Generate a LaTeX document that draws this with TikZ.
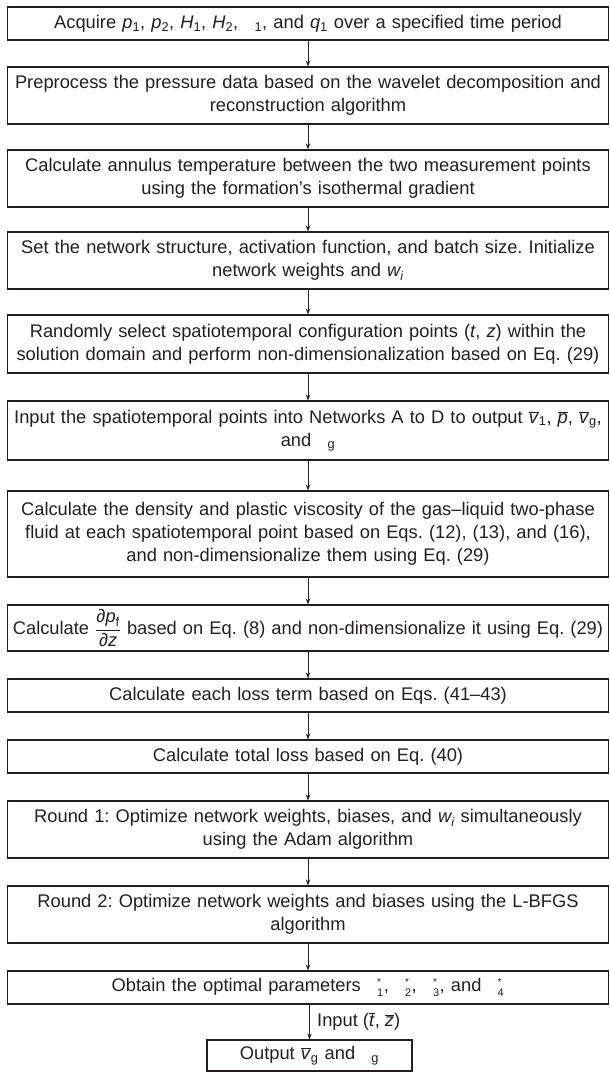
\documentclass[tikz,border=0pt]{standalone}
\usepackage{fontspec}
\setmainfont{Liberation Sans}
\usetikzlibrary{arrows.meta}
\definecolor{ink}{HTML}{231F20}
\newcommand\iv[1]{\textit{#1}}
\newcommand\ovl[1]{$\overline{\mbox{\textit{#1}}}$}
\newcommand\gp{\hphantom{\textit{n}}}
\newcommand\sbx[1]{\textsubscript{#1}}
\newcommand\starsub[1]{\gp$^{\mbox{\fontsize{10}{10}\selectfont *}}_{\mbox{\fontsize{11}{11}\selectfont #1}}$}
\frenchspacing
\begin{document}
\begin{tikzpicture}[x=1pt,y=-1pt,
  box/.style={draw=ink, line width=1.1pt, text=ink, minimum width=601.5pt, text width=600pt,
    align=center, inner xsep=0pt, inner ysep=0pt, font=\fontsize{18.3}{23}\selectfont},
  lbl/.style={text=ink, inner sep=0pt, font=\fontsize{18.3}{23}\selectfont},
  arr/.style={draw=ink, line width=0.9pt, -{Stealth[length=6pt,width=4.5pt]}}]
\useasboundingbox (0,0) rectangle (610,1072);
\node[box, minimum height=33pt] (b1) at (308,23.5) {Acquire \iv{p}\sbx{1}, \iv{p}\sbx{2}, \iv{H}\sbx{1}, \iv{H}\sbx{2}, \gp\sbx{1}, and \iv{q}\sbx{1} over a specified time period};
\node[box, minimum height=57pt] (b2) at (308,95.5) {Preprocess the pressure data based on the wavelet decomposition and\\reconstruction algorithm};
\node[box, minimum height=57pt] (b3) at (308,178.5) {Calculate annulus temperature between the two measurement points\\using the formation’s isothermal gradient};
\node[box, minimum height=57pt] (b4) at (308,260.5) {Set the network structure, activation function, and batch size. Initialize\\network weights and \iv{w\sbx{i}}};
\node[box, minimum height=58pt] (b5) at (308,344) {Randomly select spatiotemporal configuration points (\iv{t}, \iv{z}) within the\\solution domain and perform non-dimensionalization based on Eq. (29)};
\node[box, minimum height=59pt] (b6) at (308,430.5) {Input the spatiotemporal points into Networks A to D to output \ovl{v}\sbx{1}, \ovl{p}, \ovl{v}\sbx{g},\\and \gp\sbx{g}};
\node[box, minimum height=86pt] (b7) at (308,534) {Calculate the density and plastic viscosity of the gas–liquid two-phase\\fluid at each spatiotemporal point based on Eqs. (12), (13), and (16),\\and non-dimensionalize them using Eq. (29)};
\node[box, minimum height=46pt] (b8) at (308,628) {Calculate $\displaystyle\frac{\mbox{\iv{∂p}\sbx{f}}}{\mbox{\iv{∂z}}}$ based on Eq. (8) and non-dimensionalize it using Eq. (29)};
\node[box, minimum height=33pt] (b9) at (308,695.5) {Calculate each loss term based on Eqs. (41–43)};
\node[box, minimum height=33pt] (b10) at (308,756.5) {Calculate total loss based on Eq. (40)};
\node[box, minimum height=57pt] (b11) at (308,829.5) {Round 1: Optimize network weights, biases, and \iv{w\sbx{i}} simultaneously\\using the Adam algorithm};
\node[box, minimum height=57pt] (b12) at (308,914.5) {Round 2: Optimize network weights and biases using the L-BFGS\\algorithm};
\node[box, minimum height=33pt] (b13) at (308,987.5) {Obtain the optimal parameters \starsub{1}, \starsub{2}, \starsub{3}, and \starsub{4}};
\node[box, minimum height=31pt, minimum width=205pt, text width=200pt] (b14) at (309.5,1055.5) {Output \ovl{v}\sbx{g} and \gp\sbx{g}};
\node[lbl, anchor=west] (lab) at (317,1021) {Input (\ovl{t}, \ovl{z})};
\draw[arr] (b1) -- (b2);
\draw[arr] (b2) -- (b3);
\draw[arr] (b3) -- (b4);
\draw[arr] (b4) -- (b5);
\draw[arr] (b5) -- (b6);
\draw[arr] (b6) -- (b7);
\draw[arr] (b7) -- (b8);
\draw[arr] (b8) -- (b9);
\draw[arr] (b9) -- (b10);
\draw[arr] (b10) -- (b11);
\draw[arr] (b11) -- (b12);
\draw[arr] (b12) -- (b13);
\draw[arr] (b13.south -| b14.north) -- (b14.north);
\end{tikzpicture}
\end{document}
